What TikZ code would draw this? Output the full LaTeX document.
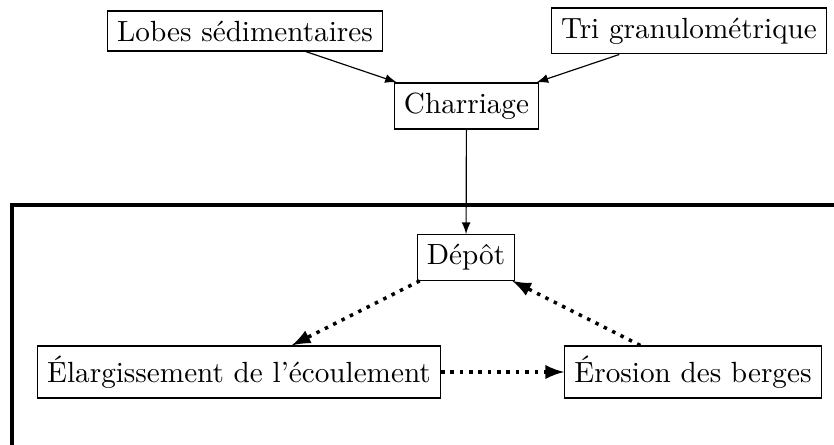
\documentclass[tikz,border=0pt]{standalone}
\usetikzlibrary{arrows}
\begin{document}
\begin{tikzpicture}[x=0.3425pt,y=-0.3425pt,
  box/.style={draw,rectangle,inner sep=3.33pt,font=\normalsize},
  solidarrow/.style={-latex,line width=0.4pt},
  dotarrow/.style={-latex,very thick,dotted},
  frameline/.style={line width=1.4pt}]
\useasboundingbox (0,0) rectangle (834,445);
\node[box] (lobes) at (245,31) {Lobes sédimentaires};
\node[box] (tri) at (689,31) {Tri granulométrique};
\node[box] (charriage) at (466.5,106) {Charriage};
\node[box] (depot) at (466,257.5) {Dépôt};
\node[box] (elarg) at (239,372) {Élargissement de l'écoulement};
\node[box] (erosion) at (693,372) {Érosion des berges};
\coordinate (fbl) at (12,445);
\coordinate (ftl) at (12,205);
\coordinate (ftr) at (834,205);
\draw[frameline] (fbl) -- (ftl) -- (ftr);
\draw[solidarrow] (lobes) -- (charriage);
\draw[solidarrow] (tri) -- (charriage);
\draw[solidarrow] (charriage) -- (depot);
\draw[dotarrow] (depot) -- (elarg);
\draw[dotarrow] (elarg) -- (erosion);
\draw[dotarrow] (erosion) -- (depot);
\end{tikzpicture}
\end{document}
